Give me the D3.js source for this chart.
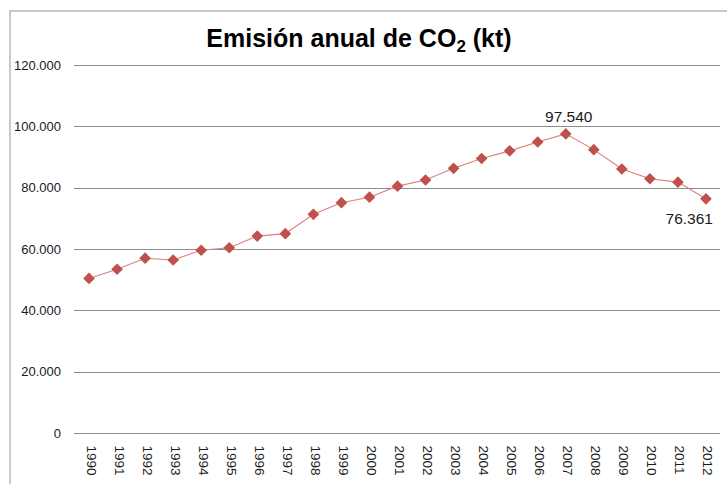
<!DOCTYPE html>
<html>
<head>
<meta charset="utf-8">
<script src="https://cdn.jsdelivr.net/npm/d3@7"></script>
<style>
  html, body { margin: 0; padding: 0; background: #fff; }
  svg { display: block; }
  text { font-family: "Liberation Sans", Arial, sans-serif; }
</style>
</head>
<body>
<svg id="chart" width="727" height="484"></svg>
<script>
const years = ["1990","1991","1992","1993","1994","1995","1996","1997","1998","1999","2000","2001","2002","2003","2004","2005","2006","2007","2008","2009","2010","2011","2012"];
const emissions = [50400, 53400, 57000, 56400, 59600, 60400, 64200, 65000, 71300, 75100, 76900, 80500, 82500, 86300, 89500, 92000, 94900, 97540, 92400, 86100, 82900, 81800, 76361];
const yTicks = [0, 20000, 40000, 60000, 80000, 100000, 120000];
const labeledYears = ["2007", "2012"];

const W = 727, H = 484;
const svg = d3.select("#chart");
const loc = d3.formatLocale({decimal: ",", thousands: ".", grouping: [3], currency: ["", ""]});
const fmt = loc.format(",d");

// frame
svg.append("rect").attr("x", 10).attr("y", 11).attr("width", W).attr("height", H)
  .attr("fill", "none").attr("stroke", "#bdbdbd").attr("stroke-width", 1.6);

const x = d3.scalePoint().domain(years).range([75, 720]).padding(0.5);
const y = d3.scaleLinear().domain([0, 120000]).range([433, 65]);

// gridlines
svg.append("g").selectAll("line").data(yTicks).join("line")
  .attr("x1", 74).attr("x2", 720)
  .attr("y1", d => Math.round(y(d)) + 0.5).attr("y2", d => Math.round(y(d)) + 0.5)
  .attr("stroke", "#8c8c8c").attr("stroke-width", 1);

// y labels
const yAxis = d3.axisLeft(y).tickValues(yTicks).tickFormat(fmt).tickSize(0).tickPadding(0);
const gy = svg.append("g").attr("transform", "translate(61,0)").call(yAxis);
gy.select(".domain").remove();
gy.selectAll("text").attr("font-size", 13).attr("fill", "#1a1a1a")
  .attr("font-family", "Liberation Sans, Arial, sans-serif");

// x labels
const xAxis = d3.axisBottom(x).tickSize(0).tickPadding(0);
const gx = svg.append("g").attr("transform", "translate(0,433)").call(xAxis);
gx.select(".domain").remove();
gx.selectAll("text")
  .attr("font-size", 13.5).attr("fill", "#1a1a1a")
  .attr("font-family", "Liberation Sans, Arial, sans-serif")
  .attr("text-anchor", "start").attr("dy", null).attr("y", 0)
  .attr("dominant-baseline", "central")
  .attr("transform", "translate(1.5,12.5) rotate(90)");

// line
const line = d3.line().x((d, i) => x(years[i])).y(d => y(d));
svg.append("path").datum(emissions).attr("d", line)
  .attr("fill", "none").attr("stroke", "#d9807e").attr("stroke-width", 1.1);

// markers
const sym = d3.symbol().type(d3.symbolSquare).size(68);
svg.append("g").selectAll("path").data(emissions).join("path")
  .attr("d", sym)
  .attr("transform", (d, i) => `translate(${x(years[i])},${y(d)}) rotate(45)`)
  .attr("fill", "#c0504d");

// data labels
const lab = svg.append("g");
labeledYears.forEach(yr => {
  const i = years.indexOf(yr);
  const v = emissions[i];
  const t = lab.append("text").text(fmt(v)).attr("font-size", 15.5).attr("fill", "#1a1a1a");
  if (i === years.length - 1) {
    t.attr("x", x(yr) + 7).attr("y", y(v) + 25).attr("text-anchor", "end");
  } else {
    t.attr("x", x(yr) + 3).attr("y", y(v) - 12).attr("text-anchor", "middle");
  }
});

// title
const title = svg.append("text").attr("x", 359).attr("y", 47).attr("text-anchor", "middle")
  .attr("font-size", 25).attr("font-weight", "bold").attr("fill", "#000");
title.append("tspan").text("Emisión anual de CO");
title.append("tspan").text("2").attr("font-size", 17).attr("dy", 5);
title.append("tspan").text(" (kt)").attr("dy", -5);
</script>
</body>
</html>
